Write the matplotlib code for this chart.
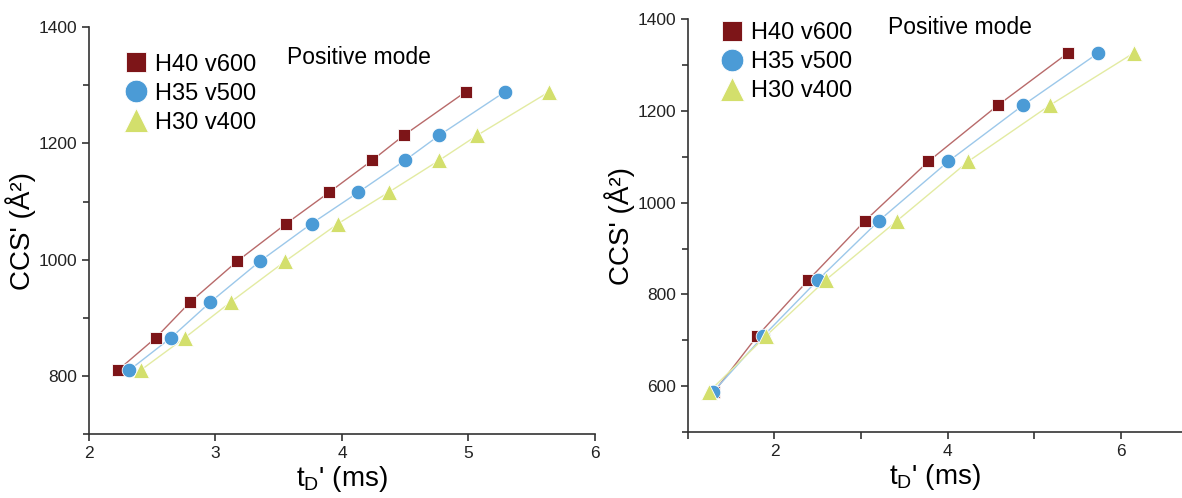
import matplotlib

matplotlib.use("Agg")
import matplotlib.pyplot as plt
from matplotlib.ticker import MultipleLocator

plt.rcParams["font.family"] = ["Liberation Sans", "DejaVu Sans"]

labels = ["H40 v600", "H35 v500", "H30 v400"]
marker_colors = ["#7d1518", "#4b9bd6", "#d3df6c"]
line_colors = ["#b86a6a", "#9cc8ea", "#e3eba2"]
markers = ["s", "o", "^"]
marker_sizes = [9, 10.5, 11.5]

# left panel
ccs_left = [810, 866, 927, 997, 1062, 1116, 1171, 1214, 1289]
td_left_h40 = [2.23, 2.53, 2.80, 3.17, 3.56, 3.90, 4.24, 4.49, 4.98]
td_left_h35 = [2.32, 2.65, 2.96, 3.35, 3.76, 4.13, 4.50, 4.77, 5.29]
td_left_h30 = [2.41, 2.76, 3.12, 3.55, 3.97, 4.37, 4.77, 5.07, 5.64]

# right panel
ccs_right = [587, 709, 831, 961, 1090, 1212, 1326]
td_right_h40 = [1.30, 1.80, 2.39, 3.05, 3.78, 4.58, 5.39]
td_right_h35 = [1.29, 1.87, 2.50, 3.21, 4.01, 4.87, 5.74]
td_right_h30 = [1.24, 1.90, 2.59, 3.42, 4.24, 5.18, 6.15]

fig = plt.figure(figsize=(11.82, 4.98), dpi=100)
ax1 = fig.add_axes([0.0753, 0.1285, 0.428, 0.817])
ax2 = fig.add_axes([0.582, 0.1325, 0.418, 0.829])


def draw(ax, ccs, series):
    for td, lab, mc, lc, mk, ms in zip(
        series, labels, marker_colors, line_colors, markers, marker_sizes
    ):
        ax.plot(td, ccs, color=lc, lw=1.0, zorder=1)
        ax.plot(
            td, ccs, ls="none", marker=mk, ms=ms, color=mc,
            markeredgecolor="white", markeredgewidth=0.6, label=lab, zorder=2,
        )
    for side in ["top", "right"]:
        ax.spines[side].set_visible(False)
    for side in ["left", "bottom"]:
        ax.spines[side].set_linewidth(1.2)
        ax.spines[side].set_color("#333333")
    ax.tick_params(which="both", direction="out", width=1.2, color="#333333",
                   labelsize=12.5, labelcolor="#222222")
    ax.tick_params(which="major", length=5)
    ax.tick_params(which="minor", length=4)
    ax.set_xlabel("t$_\\mathregular{D}$' (ms)", fontsize=20, labelpad=2)
    ax.set_ylabel("CCS' (Å²)", fontsize=20, labelpad=2)


draw(ax1, ccs_left, [td_left_h40, td_left_h35, td_left_h30])
ax1.set_xlim(2, 6)
ax1.set_ylim(700, 1400)
ax1.xaxis.set_major_locator(MultipleLocator(1))
ax1.yaxis.set_major_locator(MultipleLocator(200))
ax1.yaxis.set_minor_locator(MultipleLocator(100))
ax1.legend(loc="upper left", bbox_to_anchor=(0.069, 0.935), frameon=False,
           fontsize=17, markerscale=1.55, handlelength=1.0, handletextpad=0.3,
           labelspacing=0.3, borderpad=0, borderaxespad=0)
ax1.text(0.391, 0.926, "Positive mode", transform=ax1.transAxes,
         fontsize=16.5, va="center", ha="left")

draw(ax2, ccs_right, [td_right_h40, td_right_h35, td_right_h30])
ax2.set_xlim(1, 6.71)
ax2.set_ylim(500, 1400)
ax2.xaxis.set_major_locator(MultipleLocator(2))
ax2.xaxis.set_minor_locator(MultipleLocator(1))
ax2.yaxis.set_major_locator(MultipleLocator(200))
ax2.yaxis.set_minor_locator(MultipleLocator(100))
ax2.tick_params(axis="x", which="minor", length=5)
ax2.legend(loc="upper left", bbox_to_anchor=(0.065, 0.993), frameon=False,
           fontsize=17, markerscale=1.55, handlelength=1.0, handletextpad=0.3,
           labelspacing=0.3, borderpad=0, borderaxespad=0)
ax2.text(0.405, 0.981, "Positive mode", transform=ax2.transAxes,
         fontsize=16.5, va="center", ha="left")

fig.savefig("out.png", dpi=100)
